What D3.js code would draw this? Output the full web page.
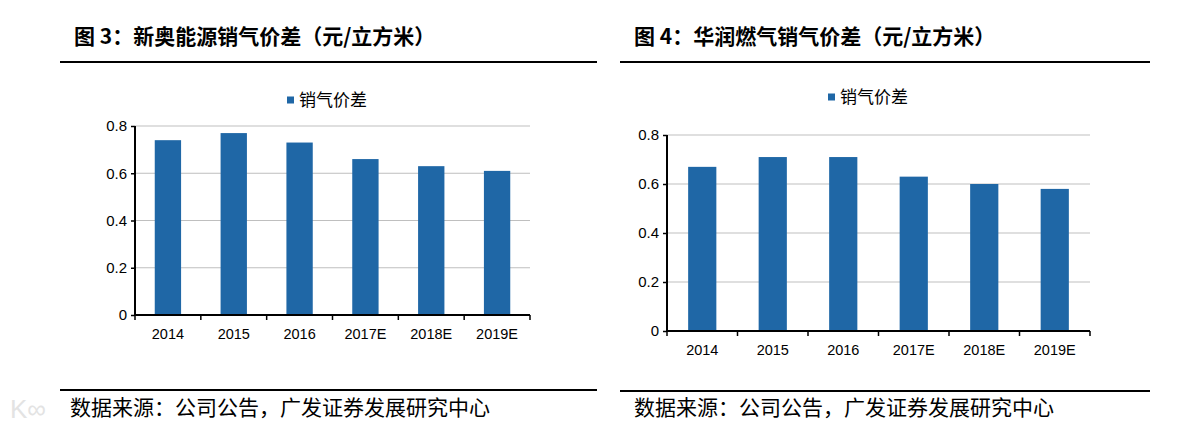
<!DOCTYPE html>
<html>
<head>
<meta charset="utf-8">
<script src="https://cdn.jsdelivr.net/npm/d3@7"></script>
<style>
  body { margin: 0; background: #ffffff; }
  svg { display: block; }
</style>
</head>
<body>
<script>
// categories and values
var years = ["2014", "2015", "2016", "2017E", "2018E", "2019E"];
var xinaoSpread = [0.74, 0.77, 0.73, 0.66, 0.63, 0.61];
var crGasSpread = [0.67, 0.71, 0.71, 0.63, 0.60, 0.58];
var yTicks = [0, 0.2, 0.4, 0.6, 0.8];
var yTickLabels = ["0", "0.2", "0.4", "0.6", "0.8"];
var seriesName = "销气价差";
var titles = ["图 3：新奥能源销气价差（元/立方米）", "图 4：华润燃气销气价差（元/立方米）"];
var sourceText = "数据来源：公司公告，广发证券发展研究中心";

// set properties for the page
var w = 1190;
var h = 434;
var barColor = "#1f67a6";
var gridColor = "#bfbfbf";
var numFont = "'Liberation Sans', Arial, sans-serif";
var cjkFont = "'Noto Sans CJK SC', sans-serif";

window.onload = function() {

  var svg = d3.select("body")
              .append("svg")
              .attr("width", w)
              .attr("height", h);

  // left panel
  drawPanel(svg, {
    title: titles[0], data: xinaoSpread,
    left: 60, right: 597, titleX: 74, sourceX: 70, bottomLine: 390,
    plotX0: 135, plotX1: 530, plotY0: 126, plotY1: 315,
    legendX: 287, legendY: 100
  });

  // right panel
  drawPanel(svg, {
    title: titles[1], data: crGasSpread,
    left: 620, right: 1150, titleX: 634, sourceX: 634, bottomLine: 391,
    plotX0: 667, plotX1: 1090, plotY0: 135, plotY1: 331,
    legendX: 828, legendY: 97
  });

  // faint watermark in the lower left corner
  svg.append("text")
     .attr("x", 10)
     .attr("y", 418)
     .attr("font-family", numFont)
     .attr("font-size", 26)
     .attr("fill", "#e3e3e3")
     .text("K∞");
};

function drawPanel(svg, p) {

  // title and the rule beneath it
  svg.append("text")
     .attr("x", p.titleX)
     .attr("y", 44)
     .attr("font-family", cjkFont)
     .attr("font-weight", "bold")
     .attr("font-size", 21)
     .attr("fill", "#000")
     .text(p.title);

  svg.append("line")
     .attr("x1", p.left).attr("x2", p.right)
     .attr("y1", 62).attr("y2", 62)
     .attr("stroke", "#000")
     .attr("stroke-width", 2);

  // scales
  var xScale = d3.scaleBand()
                 .domain(years)
                 .range([p.plotX0, p.plotX1])
                 .paddingInner(0.6)
                 .paddingOuter(0.3);

  var bandScale = d3.scaleBand()
                    .domain(years)
                    .range([p.plotX0, p.plotX1]);

  var yScale = d3.scaleLinear()
                 .domain([0, 0.8])
                 .range([p.plotY1, p.plotY0]);

  // gridlines
  svg.append("g")
     .selectAll("line")
     .data(yTicks.slice(1))
     .enter()
     .append("line")
     .attr("x1", p.plotX0)
     .attr("x2", p.plotX1)
     .attr("y1", function(d) { return yScale(d); })
     .attr("y2", function(d) { return yScale(d); })
     .attr("stroke", gridColor)
     .attr("stroke-width", 1);

  // bars
  svg.append("g")
     .selectAll("rect")
     .data(p.data)
     .enter()
     .append("rect")
     .attr("x", function(d, i) { return xScale(years[i]); })
     .attr("y", function(d) { return yScale(d); })
     .attr("width", xScale.bandwidth())
     .attr("height", function(d) { return yScale(0) - yScale(d); })
     .attr("fill", barColor);

  // y axis
  var yAxis = d3.axisLeft(yScale)
                .tickValues(yTicks)
                .tickSize(4)
                .tickPadding(4)
                .tickFormat(function(d, i) { return yTickLabels[i]; });

  var gy = svg.append("g")
              .attr("transform", "translate(" + p.plotX0 + ",0)")
              .call(yAxis);
  gy.select(".domain").attr("stroke-width", 2).attr("d", "M0," + p.plotY0 + "V" + p.plotY1);
  gy.selectAll(".tick line").attr("stroke-width", 1.5);
  gy.selectAll("text")
    .attr("font-family", numFont)
    .attr("font-size", 15)
    .attr("fill", "#000");

  // x axis, ticks on band boundaries
  var xAxis = d3.axisBottom(bandScale)
                .tickSize(0)
                .tickPadding(14);

  var gx = svg.append("g")
              .attr("transform", "translate(0," + p.plotY1 + ")")
              .call(xAxis);
  gx.select(".domain").attr("stroke-width", 2).attr("d", "M" + p.plotX0 + ",0H" + p.plotX1);
  gx.selectAll("text")
    .attr("font-family", numFont)
    .attr("font-size", 14.5)
    .attr("fill", "#000");

  var bounds = years.map(function(y) { return bandScale(y); }).concat([p.plotX1]);
  gx.selectAll(".bound")
    .data(bounds)
    .enter()
    .append("line")
    .attr("class", "bound")
    .attr("x1", function(d) { return d; })
    .attr("x2", function(d) { return d; })
    .attr("y1", 0)
    .attr("y2", 5)
    .attr("stroke", "#000")
    .attr("stroke-width", 1.5);

  // legend
  svg.append("rect")
     .attr("x", p.legendX)
     .attr("y", p.legendY - 3.5)
     .attr("width", 7)
     .attr("height", 7)
     .attr("fill", barColor);

  svg.append("text")
     .attr("x", p.legendX + 12)
     .attr("y", p.legendY)
     .attr("dy", "0.35em")
     .attr("font-family", cjkFont)
     .attr("font-size", 17)
     .attr("fill", "#000")
     .text(seriesName);

  // source note and its rule
  svg.append("line")
     .attr("x1", p.left).attr("x2", p.right)
     .attr("y1", p.bottomLine).attr("y2", p.bottomLine)
     .attr("stroke", "#000")
     .attr("stroke-width", 2);

  svg.append("text")
     .attr("x", p.sourceX)
     .attr("y", 408)
     .attr("dy", "0.35em")
     .attr("font-family", cjkFont)
     .attr("font-size", 21)
     .attr("fill", "#000")
     .text(sourceText);
}
</script>
</body>
</html>
